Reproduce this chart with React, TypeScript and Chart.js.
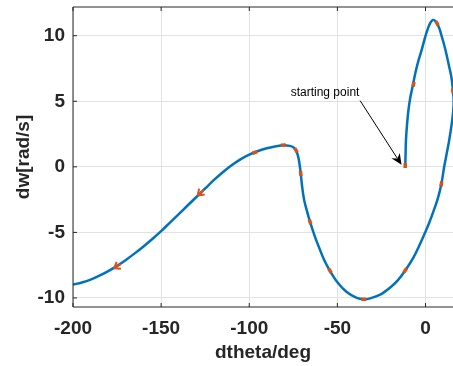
import { useEffect, useRef } from 'react';
import { Chart, registerables } from 'chart.js';

Chart.register(...registerables);

// Trajectory (in order of travel)
const curveX = [
  -11.5, -11.3, -11.1, -10.5, -9.7, -8.6, -7.2, -5.7, -4.0, -2.0, -0.2, 1.5, 2.8, 4.2, 5.3, 6.5, 8.0, 9.3,
  10.8, 12.2, 13.5, 14.6, 15.3, 15.9, 15.9, 15.2, 13.4, 12.0, 10.6, 9.0, 7.0, 4.5, 2.0, -0.2, -3.5, -6.8,
  -11.5, -16, -20, -25.7, -31.4, -35, -39, -44.7, -50, -54.2, -57.5, -59.8, -62.8, -65.5, -67.4, -68.9,
  -70.0, -70.8, -71.8, -72.6, -73.5, -75.0, -77.0, -80.7, -85, -90, -95, -100, -105, -110, -115,
  -120, -125, -130, -135, -140, -145, -150, -155, -160, -165, -170, -175, -180, -185, -190, -195, -200,
];
const curveY = [
  0.0, 1.0, 2.0, 3.2, 4.3, 5.3, 6.2, 7.2, 8.1, 9.0, 9.9, 10.6, 11.0, 11.2, 11.15, 10.95, 10.5, 9.9,
  9.2, 8.4, 7.6, 6.9, 6.2, 5.3, 4.6, 3.6, 2.0, 1.0, 0.0, -1.3, -2.4, -3.4, -4.3, -5.0, -6.0, -6.9,
  -7.9, -8.7, -9.2, -9.75, -10.03, -10.1, -10.0, -9.55, -8.8, -7.93, -7.1, -6.35, -5.3, -4.2, -3.3, -2.5,
  -1.5, -0.5, 0.5, 0.95, 1.27, 1.5, 1.6, 1.65, 1.56, 1.42, 1.21, 0.93, 0.57, 0.12, -0.41,
  -1.0, -1.65, -2.3, -2.95, -3.6, -4.25, -4.9, -5.5, -6.07, -6.6, -7.1, -7.55, -7.95, -8.3, -8.6, -8.82, -8.98,
];

// Short orange direction marks along the trajectory
const dashX = [-11.5, -6.8, 6.5, 15.5, 9.0, -11.5, -35, -54.2, -65.5, -70.8, -73.5, -80.7, -96.8];
const dashY = [0.1, 6.3, 10.95, 5.8, -1.3, -7.9, -10.1, -7.93, -4.2, -0.5, 1.27, 1.65, 1.1];
// Orange arrows with heads
const arrowX = [-128, -175.3];
const arrowY = [-2.03, -7.62];

const xTicks = [-200, -150, -100, -50, 0];
const yTicks = [-10, -5, 0, 5, 10];
const xRange = [-200, 15.6];
const yRange = [-10.69, 12.19];

const xTitle = 'dtheta/deg';
const yTitle = 'dw[rad/s]';

const annotationText = 'starting point';
const annotationLabel = [-57, 5.65];
const annotationTail = [-37.1, 5.05];
const annotationTip = [-13.6, 0.15];

const FONT = "'Liberation Sans', Arial, Helvetica, sans-serif";
const AXIS = '#262626';
const BLUE = '#0072BD';
const ORANGE = '#D95319';

function tangentAt(chart: any, vx: number, vy: number) {
  const xs = chart.scales.x;
  const ys = chart.scales.y;
  const px = xs.getPixelForValue(vx);
  const py = ys.getPixelForValue(vy);
  let best = 0;
  let bd = Infinity;
  for (let i = 0; i < curveX.length; i++) {
    const dx = xs.getPixelForValue(curveX[i]) - px;
    const dy = ys.getPixelForValue(curveY[i]) - py;
    const d = dx * dx + dy * dy;
    if (d < bd) {
      bd = d;
      best = i;
    }
  }
  const a = Math.max(0, best - 1);
  const b = Math.min(curveX.length - 1, best + 1);
  const dx = xs.getPixelForValue(curveX[b]) - xs.getPixelForValue(curveX[a]);
  const dy = ys.getPixelForValue(curveY[b]) - ys.getPixelForValue(curveY[a]);
  const len = Math.hypot(dx, dy) || 1;
  return { px, py, ux: dx / len, uy: dy / len };
}

const decorPlugin = {
  id: 'decor',
  afterDatasetsDraw(chart: any) {
    const { ctx, chartArea } = chart;
    ctx.save();
    ctx.beginPath();
    ctx.rect(chartArea.left, chartArea.top, chartArea.right - chartArea.left, chartArea.bottom - chartArea.top);
    ctx.clip();
    ctx.strokeStyle = ORANGE;
    ctx.lineCap = 'butt';
    ctx.lineWidth = 3.5;
    for (let i = 0; i < dashX.length; i++) {
      const t = tangentAt(chart, dashX[i], dashY[i]);
      ctx.beginPath();
      ctx.moveTo(t.px - t.ux * 2.5, t.py - t.uy * 2.5);
      ctx.lineTo(t.px + t.ux * 2.5, t.py + t.uy * 2.5);
      ctx.stroke();
    }
    ctx.lineWidth = 2;
    for (let i = 0; i < arrowX.length; i++) {
      const t = tangentAt(chart, arrowX[i], arrowY[i]);
      const tx = t.px + t.ux * 3;
      const ty = t.py + t.uy * 3;
      ctx.beginPath();
      ctx.moveTo(t.px - t.ux * 5, t.py - t.uy * 5);
      ctx.lineTo(tx, ty);
      ctx.stroke();
      for (const s of [1, -1]) {
        const ang = ((35 * Math.PI) / 180) * s;
        const rx = Math.cos(ang) * -t.ux - Math.sin(ang) * -t.uy;
        const ry = Math.sin(ang) * -t.ux + Math.cos(ang) * -t.uy;
        ctx.beginPath();
        ctx.moveTo(tx, ty);
        ctx.lineTo(tx + rx * 7, ty + ry * 7);
        ctx.stroke();
      }
    }
    ctx.restore();
  },
  afterDraw(chart: any) {
    const { ctx, chartArea, scales } = chart;
    const xs = scales.x;
    const ys = scales.y;
    const { left, right, top, bottom } = chartArea;
    ctx.save();
    ctx.strokeStyle = AXIS;
    ctx.lineWidth = 1;
    ctx.beginPath();
    ctx.moveTo(left, top);
    ctx.lineTo(left, bottom);
    ctx.lineTo(right, bottom);
    ctx.moveTo(left, top);
    ctx.lineTo(right, top);
    for (const v of xTicks) {
      const px = xs.getPixelForValue(v);
      ctx.moveTo(px, bottom);
      ctx.lineTo(px, bottom - 4);
      ctx.moveTo(px, top);
      ctx.lineTo(px, top + 4);
    }
    for (const v of yTicks) {
      const py = ys.getPixelForValue(v);
      ctx.moveTo(left, py);
      ctx.lineTo(left + 4, py);
    }
    ctx.stroke();

    // annotation
    const x1 = xs.getPixelForValue(annotationTail[0]);
    const y1 = ys.getPixelForValue(annotationTail[1]);
    const x2 = xs.getPixelForValue(annotationTip[0]);
    const y2 = ys.getPixelForValue(annotationTip[1]);
    const len = Math.hypot(x2 - x1, y2 - y1);
    const ux = (x2 - x1) / len;
    const uy = (y2 - y1) / len;
    ctx.strokeStyle = '#000';
    ctx.fillStyle = '#000';
    ctx.lineWidth = 1;
    ctx.beginPath();
    ctx.moveTo(x1, y1);
    ctx.lineTo(x2 - ux * 8, y2 - uy * 8);
    ctx.stroke();
    const hl = 11;
    const hw = 5;
    ctx.beginPath();
    ctx.moveTo(x2, y2);
    ctx.lineTo(x2 - ux * hl - uy * hw, y2 - uy * hl + ux * hw);
    ctx.lineTo(x2 - ux * hl * 0.7, y2 - uy * hl * 0.7);
    ctx.lineTo(x2 - ux * hl + uy * hw, y2 - uy * hl - ux * hw);
    ctx.closePath();
    ctx.fill();

    ctx.font = `12px ${FONT}`;
    ctx.fillStyle = '#000';
    ctx.textAlign = 'center';
    ctx.textBaseline = 'middle';
    ctx.fillText(annotationText, xs.getPixelForValue(annotationLabel[0]), ys.getPixelForValue(annotationLabel[1]));
    ctx.restore();
  },
};

export default function App() {
  const ref = useRef<HTMLCanvasElement | null>(null);
  useEffect(() => {
    if (!ref.current) return;
    const points = curveX.map((x, i) => ({ x, y: curveY[i] }));
    const tickFont = { family: FONT, size: 19, weight: 'bold' as const };
    const chart = new Chart(ref.current, {
      type: 'scatter',
      data: {
        datasets: [
          {
            data: points,
            showLine: true,
            borderColor: BLUE,
            backgroundColor: BLUE,
            borderWidth: 2.5,
            pointRadius: 0,
            tension: 0.35,
          },
        ],
      },
      plugins: [decorPlugin],
      options: {
        animation: false,
        responsive: false,
        maintainAspectRatio: false,
        devicePixelRatio: 1,
        layout: { padding: { top: 7, left: 0, right: 0, bottom: 0 } },
        plugins: { legend: { display: false }, tooltip: { enabled: false } },
        scales: {
          x: {
            type: 'linear',
            min: xRange[0],
            max: xRange[1],
            afterBuildTicks: (s: any) => {
              s.ticks = xTicks.map((v) => ({ value: v }));
            },
            afterFit: (s: any) => {
              s.height = 59;
              s.paddingLeft = 0;
              s.paddingRight = 0;
            },
            border: { display: false },
            grid: { color: '#e2e2e2', lineWidth: 1, drawTicks: false },
            ticks: { font: tickFont, color: AXIS, padding: 10, maxRotation: 0, autoSkip: false },
            title: {
              display: true,
              text: xTitle,
              font: tickFont,
              color: AXIS,
              padding: { top: 0, bottom: 1.6 },
            },
          },
          y: {
            type: 'linear',
            min: yRange[0],
            max: yRange[1],
            afterBuildTicks: (s: any) => {
              s.ticks = yTicks.map((v) => ({ value: v }));
            },
            afterFit: (s: any) => {
              s.width = 73;
              s.paddingTop = 0;
              s.paddingBottom = 0;
            },
            border: { display: false },
            grid: { color: '#e2e2e2', lineWidth: 1, drawTicks: false },
            ticks: { font: tickFont, color: AXIS, padding: 8, autoSkip: false },
            title: {
              display: true,
              text: yTitle,
              font: tickFont,
              color: AXIS,
              padding: { top: 12.6, bottom: 0 },
            },
          },
        },
      },
    });
    return () => chart.destroy();
  }, []);
  return (
    <div style={{ position: 'absolute', left: 0, top: 0, width: 453, height: 366, background: '#fff' }}>
      <canvas ref={ref} width={453} height={366} style={{ display: 'block' }} />
    </div>
  );
}
